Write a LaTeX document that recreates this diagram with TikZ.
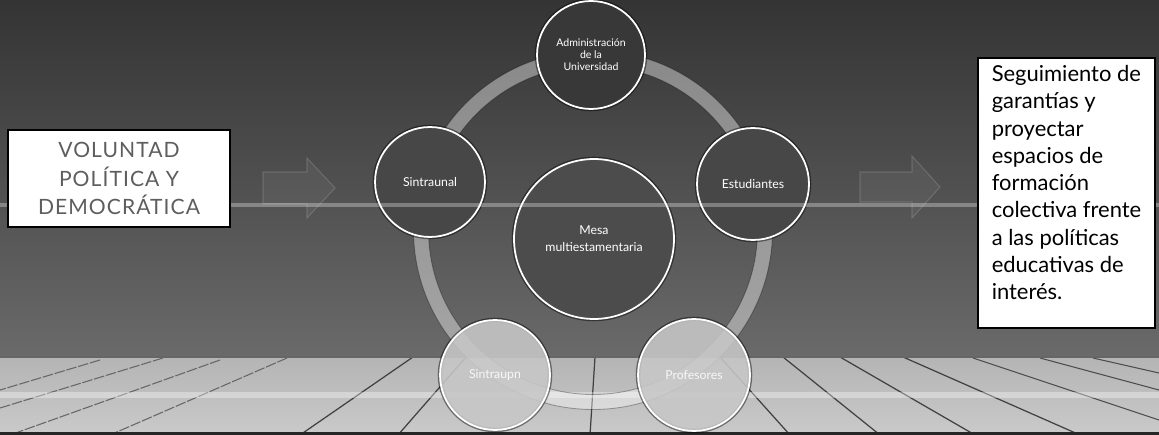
\documentclass[tikz,border=0pt]{standalone}
\usepackage{fontspec}
\setmainfont{Lato}
\newfontfamily\espaciada[LetterSpace=5]{Lato}
\usetikzlibrary{positioning}
\definecolor{fondoarriba}{HTML}{343434}
\definecolor{fondoabajo}{HTML}{6A6A6A}
\definecolor{piso}{HTML}{C4C4C4}
\definecolor{grisletra}{HTML}{5E5E5E}

\begin{document}
\begin{tikzpicture}[x=0.02cm,y=-0.02cm,
  actor/.style={circle,draw=white,line width=1pt,text=white,align=center,inner sep=0pt,
    preaction={draw=black,draw opacity=.45,line width=2.6pt},font=\fontsize{7}{8}\selectfont},
  arriba/.style={actor,fill=#1},
  abajo/.style={actor,fill=black!22,fill opacity=.88},
  flecha/.style={fill=white,fill opacity=.05,draw=white,draw opacity=.14,line width=.6pt},
  caja/.style={draw=black,line width=1.2pt,fill=white,inner sep=0pt}]
\useasboundingbox (0,0) rectangle (1159,435);

% fondo y piso de madera
\shade[top color=fondoarriba,bottom color=fondoabajo] (0,0) rectangle (1159,357);
\shade[top color=piso!92!black,bottom color=piso!90!white] (0,357) rectangle (1159,435);
\foreach \a/\b in {413/300,466/398,595/590,720/790,783/880,840/975,903/1080}
  \draw[black!75,line width=.7pt] (\a,357) -- (\b,435);
\draw[black!60,line width=.6pt,dash pattern=on 6pt off 1pt] (287,358) -- (110,435) (220,360) -- (10,435)
  (163,358) -- (0,408) (100,360) -- (0,390);
\draw[black!70,line width=.6pt] (973,358) -- (1159,420) (1040,358) -- (1159,390) (1093,358) -- (1159,373);
\fill[white,opacity=.35] (0,392) rectangle (1159,398);
\draw[black!60,line width=.8pt] (0,357) -- (1159,357);
\fill[black!85] (0,432) rectangle (1159,435);

% anillo
\draw[white,opacity=.4,line width=8.5pt] (593,230) circle (172);
\draw[black,opacity=.3,line width=.5pt] (593,230) circle (179.5) (593,230) circle (164.5);

% estamentos
\node[arriba=black!78,minimum size=2.16cm,font=\fontsize{6}{6.8}\selectfont] (admin) at (591,55) {Administración\\de la\\Universidad};
\node[arriba=black!72,minimum size=2.2cm] (sintraunal) at (430,182) {Sintraunal};
\node[arriba=black!72,minimum size=2.24cm] (estudiantes) at (753,184) {Estudiantes};
\node[arriba=black!70,minimum size=3.2cm,font=\fontsize{7}{9.6}\selectfont] (mesa) at (594,239) {Mesa\\multiestamentaria};
\node[abajo,minimum size=2.2cm] (sintraupn) at (495,375) {Sintraupn};
\node[abajo,minimum size=2.24cm] (profesores) at (694,375) {Profesores};

\fill[white,opacity=.3] (0,203) rectangle (1159,207);

% flechas
\filldraw[flecha] (263,172) -- (307,172) -- (307,158) -- (335,188) -- (307,218) -- (307,204) -- (263,204) -- cycle;
\filldraw[flecha] (860,172) -- (912,172) -- (912,156) -- (940,187) -- (912,218) -- (912,202) -- (860,202) -- cycle;

% cajas de texto
\node[caja,minimum width=4.44cm,minimum height=1.94cm,text=grisletra,align=center,
  font=\espaciada\fontsize{12}{16.2}\selectfont] (voluntad) at (119,178.5)
  {VOLUNTAD\\POLÍTICA Y\\DEMOCRÁTICA};
\node[caja,minimum width=3.54cm,minimum height=5.4cm,align=left,
  font=\fontsize{12.5}{15.5}\selectfont] (seguimiento) at (1066.5,193)
  {Seguimiento de\\garantías y\\proyectar\\espacios de\\formación\\colectiva frente\\a las políticas\\educativas de\\interés.\rule[-12pt]{0pt}{12pt}};
\end{tikzpicture}
\end{document}
